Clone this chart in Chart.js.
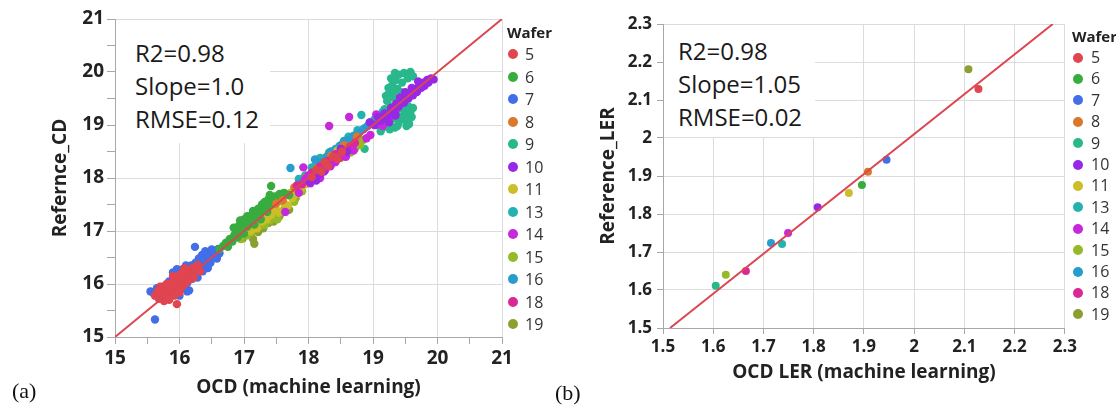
<!DOCTYPE html>
<html>
<head>
<meta charset="utf-8">
<script src="https://cdn.jsdelivr.net/npm/chart.js@4"></script>
<style>
  body { margin: 0; background: #fff; width: 1116px; height: 408px; overflow: hidden; position: relative; font-family: "Open Sans", sans-serif; }
  canvas { position: absolute; top: 0; }
  .stats { position: absolute; background: #fff; color: #1a1a1a; font-size: 24px; line-height: 33px; }
  .legend { position: absolute; color: #333; }
  .legend .ttl { font-weight: bold; font-size: 15px; color: #222; height: 22px; line-height: 22px; }
  .legend .item { position: relative; font-size: 16px; }
  .legend .dot { position: absolute; width: 10px; height: 10px; border-radius: 50%; }
  .panel { position: absolute; font-family: "Liberation Serif", serif; font-size: 22px; color: #111; }
</style>
</head>
<body>
<canvas id="cdChart" width="516" height="408" style="left:0px"></canvas>
<canvas id="lerChart" width="535" height="408" style="left:545px"></canvas>

<div class="stats" style="left:116px;top:20px;width:154px;height:123px;">
  <div style="position:absolute;left:19px;top:16px;white-space:nowrap">R2=0.98<br>Slope=1.0<br>RMSE=0.12</div>
</div>
<div class="stats" style="left:664px;top:25px;width:151px;height:112px;">
  <div style="position:absolute;left:14px;top:9px;white-space:nowrap">R2=0.98<br>Slope=1.05<br>RMSE=0.02</div>
</div>

<div class="legend" id="legendA" style="left:507px;top:21px"></div>
<div class="legend" id="legendB" style="left:1072px;top:25px"></div>

<div class="panel" style="left:12px;top:378px">(a)</div>
<div class="panel" style="left:555px;top:380px">(b)</div>

<script>
// wafer ids and their JMP-like colours
var wafers = ['5', '6', '7', '8', '9', '10', '11', '13', '14', '15', '16', '18', '19'];
var waferColors = ['#E04550', '#38AC3E', '#426EE8', '#DA782C', '#28B88C', '#9628E6', '#CCBE28',
                   '#24B2B0', '#C828DC', '#94BA28', '#289CCC', '#DC2896', '#8CA032'];
// stacking, lower = drawn on top
var waferOrder = [1, 6, 12, 5, 13, 2, 7, 11, 3, 8, 10, 4, 9];

// (a) OCD CD vs reference CD, [ocd, ref]
var cdW5 = [[15.62,15.78],[15.68,15.72],[15.72,15.85],[15.75,15.80],[15.78,15.90],[15.80,15.76],[15.82,15.88],
  [15.85,15.95],[15.86,15.82],[15.88,16.02],[15.90,15.90],[15.92,15.78],[15.93,16.08],[15.95,15.96],[15.96,15.62],
  [15.97,16.12],[15.98,15.86],[16.00,16.00],[16.01,16.18],[16.02,15.92],[16.04,16.06],[16.05,16.22],[16.06,15.98],
  [16.08,16.12],[16.10,16.02],[16.12,16.16],[16.14,16.25],[16.15,16.08],[16.18,16.18],[16.20,16.30],[16.22,16.12],
  [16.25,16.26],[15.80,16.00],[15.90,16.15],[16.00,15.84],[16.08,16.30],[15.70,15.95],[15.84,15.70],[16.28,16.36],
  [16.32,16.24],[15.76,15.68],[15.66,15.86],
  [18.05,18.02],[18.12,18.15],[18.20,18.12],[18.25,18.30],[18.30,18.22],[18.38,18.40],[18.45,18.36],[18.52,18.50]];
var cdW6 = [[16.62,16.66],[16.68,16.72],[16.72,16.78],[16.75,16.70],[16.78,16.85],[16.82,16.80],[16.85,16.92],
  [16.88,17.02],[16.90,16.88],[16.92,17.10],[16.95,17.00],[16.98,17.14],[17.00,16.95],[17.02,17.18],[17.05,17.08],
  [17.08,17.25],[17.10,17.15],[17.12,17.30],[17.15,17.22],[17.18,17.35],[17.20,17.28],[17.22,17.42],[17.25,17.35],
  [17.28,17.50],[17.30,17.40],[17.32,17.55],[17.35,17.45],[17.38,17.60],[17.42,17.85],[17.45,17.52],[17.48,17.65],
  [17.52,17.58],[17.55,17.70],[16.94,17.20],[17.05,17.28],[17.16,17.12],[17.26,17.22],[17.36,17.36],[17.62,17.72],
  [17.70,17.68],[16.84,17.06],[17.00,17.22],[17.14,17.38],[17.40,17.68]];
var cdW7 = [[15.55,15.86],[15.60,15.82],[15.62,15.33],[15.65,15.92],[15.70,15.78],[15.74,15.95],[15.84,16.05],
  [15.90,16.22],[15.96,16.28],[16.00,15.78],[16.05,16.28],[16.08,15.98],[16.10,16.35],[16.12,16.02],[16.15,15.88],
  [16.18,16.35],[16.20,16.10],[16.24,16.70],[16.25,16.40],[16.28,16.22],[16.30,16.48],[16.32,16.30],[16.35,16.55],
  [16.38,16.38],[16.40,16.62],[16.42,16.45],[16.45,16.56],[16.48,16.40],[16.50,16.65],[16.52,16.52],[16.55,16.60],
  [16.58,16.48],[16.60,16.66],[16.62,16.58],[16.36,16.24],[16.44,16.30],[16.28,16.12],[16.12,15.86]];
var cdW8 = [[17.95,18.00],[18.05,17.98],[18.15,18.20],[18.25,18.22],[18.35,18.42],[18.45,18.40],[18.55,18.62],
  [18.62,18.58],[17.78,17.82],[17.60,17.58],[17.50,17.52],[18.75,18.78]];
var cdW9 = [[18.87,18.55],[19.12,18.88],[19.15,18.95],[19.18,19.30],[19.20,19.05],[19.22,19.45],[19.22,19.20],
  [19.25,19.60],[19.26,19.00],[19.28,19.35],[19.30,19.75],[19.30,19.12],[19.32,19.52],[19.34,18.95],[19.35,19.85],
  [19.36,19.25],[19.38,19.68],[19.40,19.05],[19.40,19.95],[19.42,19.40],[19.44,19.15],[19.45,19.80],[19.46,19.30],
  [19.48,19.98],[19.50,19.10],[19.50,19.55],[19.52,19.22],[19.54,19.88],[19.55,19.35],[19.56,19.02],[19.58,20.00],
  [19.58,19.25],[19.60,19.15],[19.62,19.32],[19.62,19.92],[19.24,19.70],[19.28,19.88],[19.34,19.98],[19.44,19.62],
  [19.48,19.45],[19.18,19.10],[19.26,18.92],[19.52,18.98],[19.38,18.98],[19.20,19.55],[19.32,19.62]];
var cdW10 = [[18.95,19.05],[19.02,19.00],[19.08,19.15],[19.12,19.08],[19.18,19.22],[19.22,19.15],[19.28,19.32],
  [19.32,19.25],[19.36,19.40],[19.40,19.35],[19.45,19.48],[19.48,19.42],[19.52,19.55],[19.55,19.50],[19.58,19.62],
  [19.62,19.56],[19.65,19.68],[19.68,19.62],[19.72,19.75],[19.75,19.70],[19.78,19.80],[19.80,19.74],[19.84,19.85],
  [19.86,19.80],[19.90,19.88],[19.94,19.86],[19.70,19.82],[19.60,19.70],[19.50,19.62],[19.42,19.52],[19.35,19.18],
  [19.25,19.05],[18.60,18.50],[18.50,18.55],[18.02,17.92],[18.08,18.02],[18.12,17.95],[18.18,18.08],[18.24,18.12]];
var cdW11 = [[17.10,17.00],[17.20,17.05],[17.28,17.18],[17.35,17.22],[17.42,17.30],[17.50,17.40],[17.55,17.35],
  [17.62,17.52],[17.68,17.48],[17.75,17.62],[17.82,17.70],[17.88,17.80],[17.95,17.88],[18.00,17.92],[17.45,17.38],
  [17.58,17.60],[17.72,17.72],[17.85,17.78],[18.50,18.42],[18.60,18.55],[18.70,18.62],[18.45,18.52]];
var cdW13 = [[18.05,18.20],[18.12,18.25],[18.18,18.38],[18.25,18.32],[18.32,18.48],[18.40,18.45],[18.48,18.60],
  [18.55,18.58],[18.62,18.78],[18.70,18.72],[18.76,18.90],[18.82,19.19],[18.88,18.95],[18.95,19.05],[19.02,19.10],
  [19.10,19.18],[19.15,19.25],[18.58,18.66],[18.45,18.52],[18.35,18.36],[17.95,18.05],[17.85,17.98]];
var cdW14 = [[18.32,18.98],[18.63,19.15],[18.96,18.81],[17.92,18.20],[18.03,17.90],[17.64,17.36],[17.85,17.72],
  [18.10,18.05],[18.18,18.00],[18.26,18.15],[18.34,18.22],[18.42,18.30],[18.50,18.45],[18.58,18.40],[18.70,18.52],
  [18.90,18.75],[19.05,19.00],[19.20,19.12],[19.30,19.18],[19.15,18.98],[19.35,19.28],[19.05,19.20],[18.00,18.05],
  [17.95,17.98]];
var cdW15 = [[16.95,16.85],[17.05,16.92],[17.12,16.98],[17.18,17.08],[17.25,17.10],[17.32,17.12],[17.40,17.20],
  [17.48,17.28],[17.52,17.22],[17.60,17.38],[17.65,17.45],[17.78,17.55],[17.90,17.75],[18.55,18.40],[18.65,18.48],
  [18.72,18.55],[18.80,18.62],[18.78,18.70],[18.62,18.60]];
var cdW16 = [[17.72,18.19],[17.55,17.62],[17.62,17.70],[17.68,17.68],[17.80,17.82],[17.85,17.90],[17.92,17.95],
  [18.10,18.35],[18.15,18.28],[18.20,18.30],[18.28,18.40],[18.35,18.50],[18.42,18.55],[18.50,18.62],[18.55,18.70],
  [18.62,18.72],[18.70,18.80],[18.78,18.85],[18.85,18.92],[18.92,18.98],[19.00,19.05],[19.05,19.12],[17.40,17.50],
  [17.48,17.56]];
var cdW18 = [[17.98,17.95],[18.05,18.10],[18.12,18.08],[18.18,18.22],[18.22,18.15],[18.30,18.32],[18.36,18.28],
  [18.42,18.45],[18.48,18.38],[18.55,18.52],[17.90,17.88],[17.82,17.86],[18.65,18.60],[18.72,18.66]];
var cdW19 = [[16.98,16.86],[17.10,16.96],[17.16,16.76],[17.14,16.85],[17.22,16.98],[17.30,17.05],[17.38,17.15],
  [17.46,17.18],[17.55,17.28],[17.70,17.40],[17.80,17.62],[18.40,18.30],[18.50,18.38],[18.58,18.46],[18.68,18.58],
  [18.76,18.64],[18.85,18.72]];
var cdByWafer = [cdW5, cdW6, cdW7, cdW8, cdW9, cdW10, cdW11, cdW13, cdW14, cdW15, cdW16, cdW18, cdW19];

// (b) one LER point per wafer, same order as wafers
var lerOcd = [2.128, 1.896, 1.945, 1.908, 1.605, 1.808, 1.870, 1.737, 1.749, 1.625, 1.715, 1.665, 2.108];
var lerRef = [2.129, 1.876, 1.943, 1.911, 1.611, 1.818, 1.855, 1.721, 1.750, 1.640, 1.724, 1.650, 2.181];

// fitted lines, start and end points
var fitA = [[15, 15], [21, 21]];
var fitB = [[1.514, 1.5], [2.276, 2.3]];

var lineColor = '#DC4650';
var gridColor = '#dcdcdc';
var axisColor = '#a8a8a8';
var textColor = '#222';

function isMajor(v) {
  return Math.abs(v - Math.round(v)) < 1e-6;
}

function makeDatasets(points, fit, radius) {
  var sets = [{
    type: 'line',
    data: fit.map(function(p){ return {x: p[0], y: p[1]}; }),
    borderColor: lineColor,
    borderWidth: 2,
    pointRadius: 0,
    order: -1
  }];
  for (var i = 0; i < wafers.length; i++) {
    sets.push({
      label: wafers[i],
      data: points[i].map(function(p){ return {x: p[0], y: p[1]}; }),
      backgroundColor: waferColors[i],
      borderWidth: 0,
      pointRadius: radius,
      order: waferOrder[i]
    });
  }
  return sets;
}

function axis(opts) {
  return {
    type: 'linear',
    min: opts.min,
    max: opts.max,
    border: {color: axisColor, width: 1},
    grid: {
      color: function(c){ return opts.minor && c.tick && !isMajor(c.tick.value) ? 'rgba(0,0,0,0)' : gridColor; },
      tickColor: axisColor,
      tickLength: opts.tickLength,
      lineWidth: 1
    },
    ticks: {
      stepSize: opts.step,
      autoSkip: false,
      maxRotation: 0,
      padding: opts.pad,
      color: textColor,
      font: {family: 'Open Sans', weight: 'bold', size: opts.fontSize},
      callback: opts.fmt
    },
    title: {
      display: true,
      text: opts.title,
      color: textColor,
      font: {family: 'Open Sans', weight: 'bold', size: 19},
      padding: opts.titlePad
    },
    afterFit: function(scale){
      if (opts.width) scale.width = opts.width;
      if (opts.height) scale.height = opts.height;
    }
  };
}

// panel (a)
new Chart(document.getElementById('cdChart'), {
  type: 'scatter',
  data: {datasets: makeDatasets(cdByWafer, fitA, 4.2)},
  options: {
    responsive: false,
    animation: false,
    devicePixelRatio: 1,
    layout: {padding: {top: 19, right: 14, left: 0, bottom: 0}},
    plugins: {legend: {display: false}, tooltip: {enabled: false}},
    scales: {
      x: axis({min: 15, max: 21, step: 0.5, minor: true, tickLength: 7, pad: 3, fontSize: 19,
               title: 'OCD (machine learning)', titlePad: {top: 0, bottom: 9}, height: 71,
               fmt: function(v){ return isMajor(v) ? Math.round(v) : ''; }}),
      y: axis({min: 15, max: 21, step: 0.5, minor: true, tickLength: 8, pad: 3, fontSize: 19,
               title: 'Refernce_CD', titlePad: {top: 49, bottom: 0}, width: 115,
               fmt: function(v){ return isMajor(v) ? Math.round(v) : ''; }})
    }
  }
});

// panel (b)
var pointsB = [];
for (var i = 0; i < wafers.length; i++) {
  pointsB.push([[lerOcd[i], lerRef[i]]]);
}
new Chart(document.getElementById('lerChart'), {
  type: 'scatter',
  data: {datasets: makeDatasets(pointsB, fitB, 4)},
  options: {
    responsive: false,
    animation: false,
    devicePixelRatio: 1,
    layout: {padding: {top: 24, right: 14, left: 0, bottom: 0}},
    plugins: {legend: {display: false}, tooltip: {enabled: false}},
    scales: {
      x: axis({min: 1.5, max: 2.3, step: 0.1, tickLength: 6, pad: 3, fontSize: 17,
               title: 'OCD LER (machine learning)', titlePad: {top: 0, bottom: 24}, height: 80,
               fmt: function(v){ return +v.toFixed(1); }}),
      y: axis({min: 1.5, max: 2.3, step: 0.1, tickLength: 6, pad: 5, fontSize: 17,
               title: 'Reference_LER', titlePad: {top: 52, bottom: 0}, width: 118,
               fmt: function(v){ return +v.toFixed(1); }})
    }
  }
});

// legends
function buildLegend(id, step) {
  var el = document.getElementById(id);
  var html = '<div class="ttl">Wafer</div>';
  for (var i = 0; i < wafers.length; i++) {
    html += '<div class="item" style="height:' + step + 'px;line-height:' + step + 'px">' +
      '<span class="dot" style="left:1px;top:' + (step / 2 - 5) + 'px;background:' + waferColors[i] + '"></span>' +
      '<span style="padding-left:' + (id == 'legendA' ? 18 : 19) + 'px">' + wafers[i] + '</span></div>';
  }
  el.innerHTML = html;
}
buildLegend('legendA', 22.5);
buildLegend('legendB', 21.4);
</script>
</body>
</html>
